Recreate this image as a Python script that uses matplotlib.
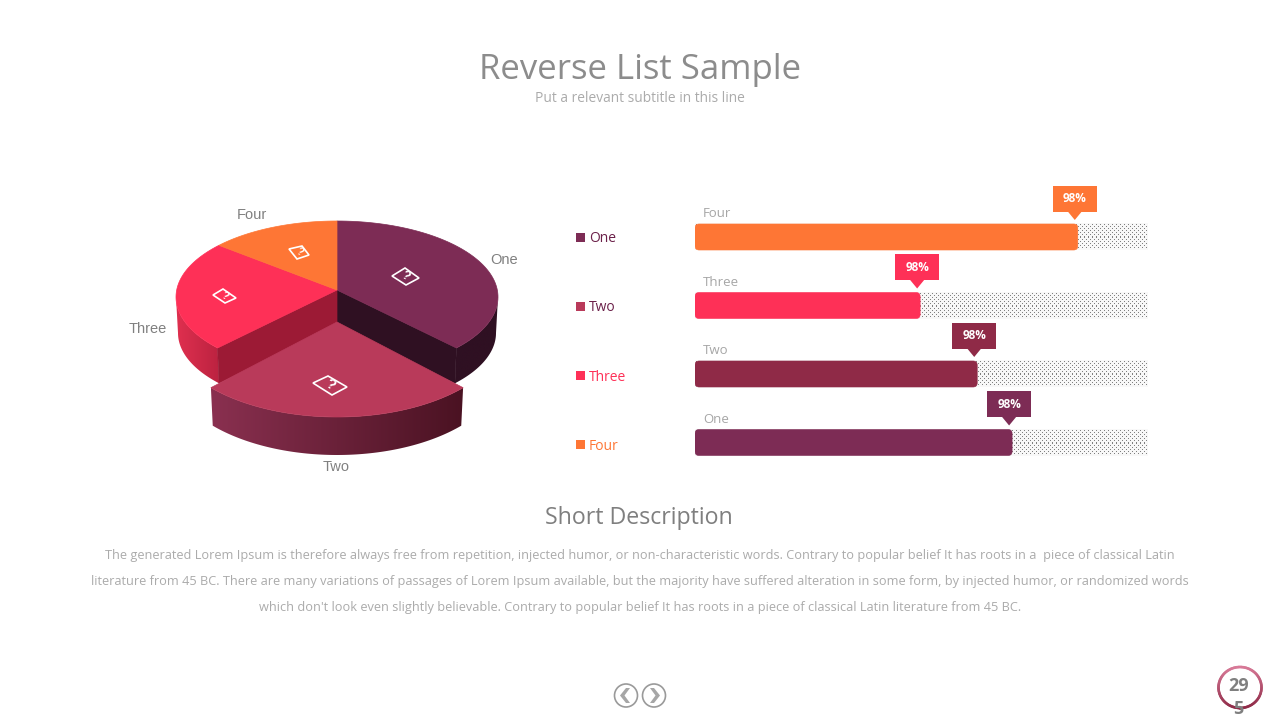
import matplotlib
matplotlib.use("Agg")
import matplotlib.pyplot as plt
import numpy as np
from matplotlib.patches import FancyBboxPatch, Polygon, Circle, Rectangle
from matplotlib.colors import to_rgb

# pie data, clockwise from 12 o'clock
pie_labels = ["One", "Two", "Three", "Four"]
pie_values = [36.7, 26.6, 23.6, 13.1]
pie_colors = ["#7d2c55", "#b93a5a", "#fe3057", "#fe7635"]

# bars, top to bottom
bar_labels = ["Four", "Three", "Two", "One"]
bar_values = [84.5, 49.7, 62.3, 70.0]
bar_colors = ["#fe7635", "#fe3057", "#8f2a47", "#7d2c55"]
bar_tags = ["98%", "98%", "98%", "98%"]

legend_labels = ["One", "Two", "Three", "Four"]
legend_colors = ["#7d2c55", "#b93a5a", "#fe3057", "#fe7635"]
legend_text_colors = ["#6b2049", "#6b2049", "#fe3057", "#fe7635"]

body_lines = [
    "The generated Lorem Ipsum is therefore always free from repetition, injected humor, or non-characteristic words. Contrary to popular belief It has roots in a  piece of classical Latin",
    "literature from 45 BC. There are many variations of passages of Lorem Ipsum available, but the majority have suffered alteration in some form, by injected humor, or randomized words",
    "which don't look even slightly believable. Contrary to popular belief It has roots in a piece of classical Latin literature from 45 BC.",
]

plt.rcParams["font.family"] = ["Open Sans", "DejaVu Sans"]

fig = plt.figure(figsize=(12.8, 7.2), dpi=100)
ax = fig.add_axes([0, 0, 1, 1], zorder=2)
ax.set_xlim(0, 1280)
ax.set_ylim(720, 0)
ax.axis("off")


def arc(cx, cy, rx, ry, a0, a1, n=80):
    t = np.radians(np.linspace(a0, a1, n))
    return np.column_stack([cx + rx * np.sin(t), cy - ry * np.cos(t)])


def wall(cx, cy, rx, ry, cy2, rx2, ry2, a0, a1, col_left, col_right, z):
    # outer wall, a left to right gradient clipped to the wall shape
    pts = np.vstack([arc(cx, cy, rx, ry, a0, a1), arc(cx, cy2, rx2, ry2, a0, a1)[::-1]])
    c0, c1 = np.array(to_rgb(col_left)), np.array(to_rgb(col_right))
    g = np.linspace(0, 1, 256)[None, :, None]
    im = ax.imshow(c0 + (c1 - c0) * g, aspect="auto", zorder=z, interpolation="bilinear",
                   extent=[pts[:, 0].min(), pts[:, 0].max(), pts[:, 1].max(), pts[:, 1].min()])
    patch = Polygon(pts, fc="none", ec="none", zorder=z)
    ax.add_patch(patch)
    im.set_clip_path(patch)


def icon(corners, size, z=9):
    # broken image placeholder lying on the pie face
    corners = np.array(corners)
    ax.add_patch(Polygon(corners, fc="none", ec="white", lw=1.2, zorder=z))
    mid = corners.mean(axis=0)
    ax.text(mid[0], mid[1], "?", color="white", fontsize=size, fontweight="bold", rotation=-30,
            ha="center", va="center", family="Liberation Sans", zorder=z)


# pie angles
edges = np.concatenate([[0], np.cumsum(pie_values)]) * 360 / sum(pie_values)
cx, cy, rx, ry = 337, 297, 161, 76
apex = (337, 290)
cy2, rx2, ry2 = 333, 159, 75

# inner cut faces behind the pulled out slice
p1 = arc(cx, cy, rx, ry, edges[1], edges[1], 1)[0]
b1 = arc(cx, cy2, rx2, ry2, edges[1], edges[1], 1)[0]
p2 = arc(cx, cy, rx, ry, edges[2], edges[2], 1)[0]
b2 = arc(cx, cy2, rx2, ry2, edges[2], edges[2], 1)[0]
ax.add_patch(Polygon([apex, p1, b1, (337, 326)], fc="#2f1022", ec="#2f1022", lw=0.5, zorder=2))
ax.add_patch(Polygon([apex, p2, b2, (337, 326)], fc="#9c1a35", ec="#9c1a35", lw=0.5, zorder=2))

wall(cx, cy, rx, ry, cy2, rx2, ry2, 90, edges[1], "#2f1022", "#2f1022", 1)
wall(cx, cy, rx, ry, cy2, rx2, ry2, edges[2], 270, "#e0304f", "#bb2240", 1)

for i in [0, 2, 3]:
    pts = np.vstack([[apex], arc(cx, cy, rx, ry, edges[i], edges[i + 1])])
    ax.add_patch(Polygon(pts, fc=pie_colors[i], ec=pie_colors[i], lw=0.5, zorder=3))

# slice Two is pulled towards the viewer and comes out larger
ex_cy, ex_rx, ex_ry = 328, 170, 89
wall(337, ex_cy, ex_rx, ex_ry, ex_cy + 38, 167.5, 89, edges[1], edges[2], "#8a3050", "#4a1222", 5)
pts = np.vstack([[(337, 322)], arc(337, ex_cy, ex_rx, ex_ry, edges[1], edges[2])])
ax.add_patch(Polygon(pts, fc=pie_colors[1], ec=pie_colors[1], lw=0.5, zorder=6))

icon([(392, 276), (405, 268), (419, 278), (406, 285)], 9)
icon([(313, 383), (328, 376), (347, 387), (332, 395)], 10.5)
icon([(213, 295), (223, 289), (236, 298), (225, 303)], 7.5)
icon([(289, 249), (302, 246), (309, 255), (297, 259)], 7)

ax.set_xlim(0, 1280)
ax.set_ylim(720, 0)

pie_text = dict(color="#808080", fontsize=10.5, family="Liberation Sans", ha="center", va="center")
ax.text(504, 260, pie_labels[0], **pie_text)
ax.text(336, 467, pie_labels[1], **pie_text)
ax.text(148, 329, pie_labels[2], **pie_text)
ax.text(252, 215, pie_labels[3], **pie_text)

# legend
for i, name in enumerate(legend_labels):
    y = 237 + i * 69.3
    ax.add_patch(Rectangle((576, y - 4.5), 9, 9, fc=legend_colors[i], ec="none"))
    ax.text(589, y + 1.5, name, color=legend_text_colors[i], fontsize=10, va="center", ha="left")

# bars on their own axes, 0-100 across the track
bx = fig.add_axes([695 / 1280, 1 - 476.75 / 720, 453 / 1280, 274 / 720], zorder=1)
bx.set_xlim(0, 100)
bx.set_ylim(3.5, -0.5)
bx.axis("off")
ypos = np.arange(len(bar_labels))
bar_h = 0.38
tracks = bx.barh(ypos, [100] * 4, height=bar_h, color="white", lw=0, zorder=1)

# dotted fill of the empty part of each track, one array cell per pixel
yy, xx = np.mgrid[0:26, 0:453]
dots = ((xx % 4 == 1) & (yy % 4 == 1)) | ((xx % 4 == 3) & (yy % 4 == 3))
dots &= (yy > 0) & (yy < 25)
dot_img = np.where(dots, 0.5, 0.97)
ratio = (274 / 4) / (453 / 100)
for y, track, v, c, name in zip(ypos, tracks, bar_values, bar_colors, bar_labels):
    im = bx.imshow(dot_img, cmap="gray", vmin=0, vmax=1, aspect="auto", interpolation="nearest", zorder=1.5,
                   extent=[0, 100, y + bar_h / 2, y - bar_h / 2])
    bx.add_patch(FancyBboxPatch((0, y - bar_h / 2), v, bar_h, boxstyle="round,pad=0,rounding_size=0.9",
                                mutation_aspect=1 / ratio, fc=c, ec=c, lw=0.4, zorder=2))
    bx.text(1.8, y - 0.34, name, color="#a6a6a6", fontsize=9.5, va="center", ha="left", clip_on=False)
bx.set_xlim(0, 100)
bx.set_ylim(3.5, -0.5)

# value tags, placed from the bar ends through the axes transforms
to_px = bx.transData + ax.transData.inverted()
for y, v, c, tag in zip(ypos, bar_values, bar_colors, bar_tags):
    ex, top = to_px.transform((v, y - bar_h / 2))
    tip = ex - 3
    ax.add_patch(Rectangle((tip - 22, top - 38), 44, 26, fc=c, ec="none", zorder=7))
    ax.add_patch(Polygon([(tip - 7, top - 12.5), (tip + 7, top - 12.5), (tip, top - 4)], fc=c, ec="none", zorder=7))
    ax.text(tip, top - 25, tag, color="white", fontsize=8.5, fontweight="bold", ha="center", va="center", zorder=8)

# headings
ax.text(640.5, 79, "Reverse List Sample", color="#8c8c8c", fontsize=25, ha="center", va="baseline")
ax.text(640, 98.5, "Put a relevant subtitle in this line", color="#ababab", fontsize=9.95, ha="center", va="center")
ax.text(639, 518.5, "Short Description", color="#7f7f7f", fontsize=16.7, ha="center", va="center")
for y, line in zip([555, 581, 608], body_lines):
    ax.text(640, y, line, color="#ababab", fontsize=9.2, ha="center", va="center")

# nav buttons
for x, d in [(626, -1), (654, 1)]:
    ax.add_patch(Circle((x, 695.5), 11.5, fc="white", ec="#9a9a9a", lw=1.2))
    ax.add_patch(Polygon([(x - 4 * d, 688), (x, 688), (x + 6 * d, 695.5), (x, 703),
                          (x - 4 * d, 703), (x + 1.5 * d, 695.5)], fc="#a6a6a6", ec="none"))

# page badge, ring fades downwards
t = np.linspace(0, 2 * np.pi, 90)
for i in range(len(t) - 1):
    f = (1 - np.cos((t[i] + t[i + 1]) / 2)) / 2
    c = np.array(to_rgb("#d87a98")) + (np.array(to_rgb("#8f2a47")) - np.array(to_rgb("#d87a98"))) * f
    ax.plot(1240 + 21.5 * np.sin(t[i:i + 2]), 687.5 - 20.5 * np.cos(t[i:i + 2]), color=c, lw=1.9, solid_capstyle="round")
ax.text(1238.5, 686, "29", color="#7f7f7f", fontsize=13, fontweight="bold", ha="center", va="center")
ax.text(1238.5, 709, "5", color="#7f7f7f", fontsize=13, fontweight="bold", ha="center", va="center")

fig.savefig("out.png", dpi=100, facecolor="white")
